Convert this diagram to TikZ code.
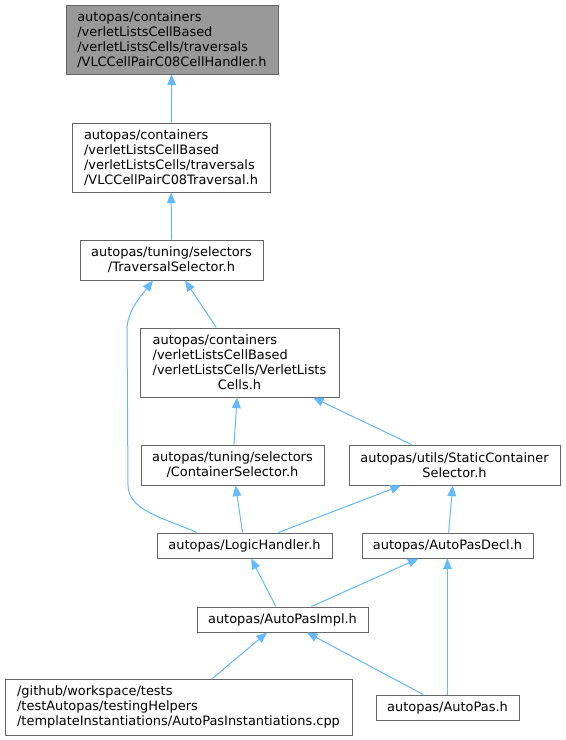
\documentclass[tikz,border=0pt]{standalone}
\usepackage{fontspec}
\setmainfont{DejaVu Sans}
\usetikzlibrary{arrows.meta}

\definecolor{edgeblue}{HTML}{63B8FF}
\definecolor{boxgray}{HTML}{666666}
\definecolor{rootgray}{HTML}{999999}

\begin{document}
\begin{tikzpicture}[
  x=0.75pt, y=-0.75pt,
  file/.style = {draw=boxgray, line width=0.75pt, fill=white, align=left, inner sep=0pt,
                 font=\fontsize{9.7pt}{11.25pt}\selectfont},
  root/.style = {file, fill=rootgray},
  box/.style 2 args = {minimum width=#1*0.75pt, minimum height=#2*0.75pt},
  dep/.style = {draw=edgeblue, line width=0.75pt, -{Triangle[length=8pt, width=6.5pt]}}
]
  \useasboundingbox (0,0) rectangle (565,740);

  % Nodes
  \node[root, box={212}{69}] (handler) at (172,39.5) {autopas/containers\\/verletListsCellBased\\/verletListsCells/traversals\\/VLCCellPairC08CellHandler.h};
  \node[file, box={198}{69}] (c08trav) at (171,157.5) {autopas/containers\\/verletListsCellBased\\/verletListsCells/traversals\\/VLCCellPairC08Traversal.h};
  \node[file, box={183}{40}, align=center] (travsel) at (171.5,260) {autopas/tuning/selectors\\/TraversalSelector.h};
  \node[file, box={199}{69}] (vlcells) at (239.5,362.5) {autopas/containers\\/verletListsCellBased\\/verletListsCells/VerletLists\\\hfill Cells.h\hfill\mbox{}};
  \node[file, box={183}{40}, align=center] (contsel) at (232.5,465) {autopas/tuning/selectors\\/ContainerSelector.h};
  \node[file, box={211}{40}, align=center] (staticsel) at (454.5,465) {autopas/utils/StaticContainer\\Selector.h};
  \node[file, box={175}{25}] (logic) at (244.5,545.5) {autopas/LogicHandler.h};
  \node[file, box={171}{25}] (decl) at (447.5,545.5) {autopas/AutoPasDecl.h};
  \node[file, box={171}{25}] (impl) at (282.5,619.5) {autopas/AutoPasImpl.h};
  \node[file, box={347}{56}] (inst) at (178.5,707) {/github/workspace/tests\\/testAutopas/testingHelpers\\/templateInstantiations/AutoPasInstantiations.cpp};
  \node[file, box={143}{25}] (autopas) at (447.5,707.5) {autopas/AutoPas.h};

  % Includes
  \draw[dep] (c08trav) -- (handler);
  \draw[dep] (travsel) -- (c08trav);
  \draw[dep] (vlcells) -- (travsel);
  \draw[dep] (logic.north) ++(-47.5,0) .. controls +(-35,-15) and +(0,25) .. (128,485)
    -- (127,330) .. controls +(0,-20) and +(-10,13) .. ([xshift=-13.9pt]travsel.south);
  \draw[dep] (contsel) -- (vlcells);
  \draw[dep] (staticsel) -- (vlcells);
  \draw[dep] (logic) -- (contsel);
  \draw[dep] (logic) -- (staticsel);
  \draw[dep] (decl) -- (staticsel);
  \draw[dep] (impl) -- (logic);
  \draw[dep] (impl) -- (decl);
  \draw[dep] (autopas) -- (decl);
  \draw[dep] (inst) -- (impl);
  \draw[dep] (autopas) -- (impl);

\end{tikzpicture}
\end{document}
